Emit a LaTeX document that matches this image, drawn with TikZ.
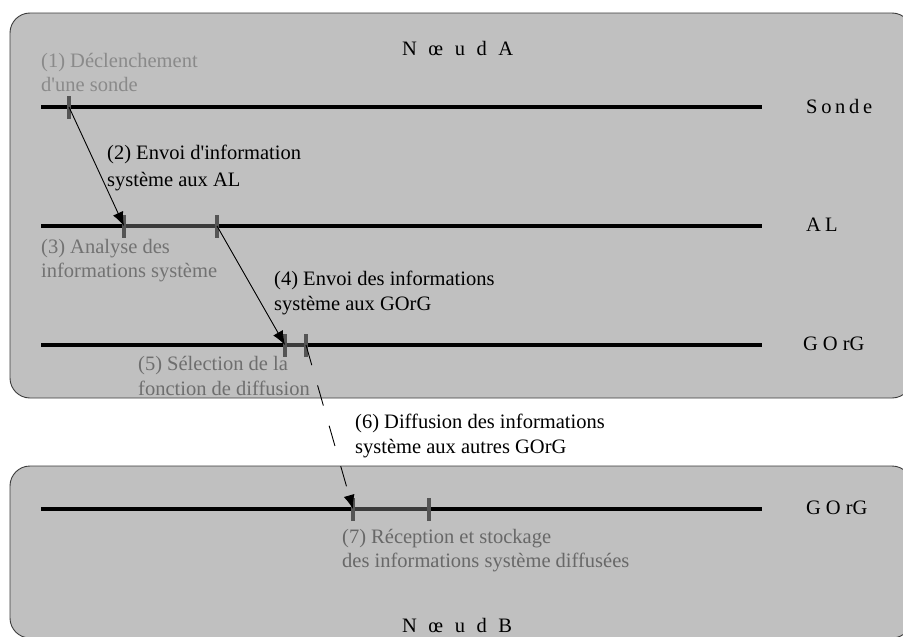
\documentclass[tikz,border=0pt]{standalone}
\usepackage{fontspec}
\setmainfont{Liberation Serif}
\usetikzlibrary{arrows.meta}

\definecolor{nodefill}{HTML}{C0C0C0}
\definecolor{nodeedge}{HTML}{3C3C3C}
\definecolor{tickgray}{HTML}{555555}
\definecolor{busygray}{HTML}{3A3A3A}
\definecolor{stepone}{HTML}{8A8A8A}
\definecolor{stepthree}{HTML}{727272}
\definecolor{stepfive}{HTML}{6E6E6E}
\definecolor{stepseven}{HTML}{686868}

% two-line label whose reference point is the baseline of its first line
\newcommand\labtwo[3][25pt]{\vtop{\baselineskip=#1\hbox{#2}\hbox{#3}}}
\newcommand\spread{\hspace{11.5pt}}

\begin{document}
\begin{tikzpicture}[x=1pt,y=-1pt,
  font=\fontsize{20.5}{25}\selectfont,
  nodebox/.style={draw=nodeedge, line width=0.9pt, fill=nodefill, rounded corners=20pt},
  lane/.style={line width=4.8pt, black},
  busy/.style={line width=3.6pt, busygray},
  tick/.style={fill=tickgray, inner sep=0pt, minimum width=3.6pt, minimum height=23pt},
  msg/.style={line width=0.9pt, -{Latex[length=14pt,width=11pt]}},
  lab/.style={anchor=base west, inner sep=0pt},
]
\clip (0,0) rectangle (903,637);
\fill[white] (0,0) rectangle (903,637);

% the two network nodes
\draw[nodebox] (10,13) rectangle (912,398);
\draw[nodebox] (10,466) rectangle (912,638);

% time lines
\draw[lane] (41,107) -- (762,107);
\draw[lane] (41,226) -- (762,226);
\draw[lane] (41,345) -- (762,345);
\draw[lane] (41,509) -- (762,509);

% event marks
\node[tick] (s1) at (69,107) {};
\node[tick] (a1) at (124,226) {};
\node[tick] (a2) at (217,226) {};
\node[tick] (g1) at (285,345) {};
\node[tick] (g2) at (306,345) {};
\node[tick] (b1) at (353,509) {};
\node[tick] (b2) at (429,509) {};

% processing intervals
\draw[busy] (a1.center) -- (a2.center);
\draw[busy] (g1.center) -- (g2.center);
\draw[busy] (b1.center) -- (b2.center);
\node[tick] at (a1) {};
\node[tick] at (a2) {};
\node[tick] at (g1) {};
\node[tick] at (g2) {};
\node[tick] at (b1) {};
\node[tick] at (b2) {};

% messages
\draw[msg] (s1.center) -- (a1.center);
\draw[msg] (a2.center) -- (g1.center);
\draw[msg, dash pattern=on 21pt off 21pt] (g2.center) -- (b1.center);

% titles
\node[lab] (na) at (402,55) {N\spread œ\spread u\spread d\spread A};
\node[lab] (nb) at (402,632) {N\spread œ\spread u\spread d\spread B};

% lane names
\node[lab] (sonde) at (806,113) {S\hspace{3.7pt}o\hspace{3.7pt}n\hspace{3.7pt}d\hspace{3.7pt}e};
\node[lab] (al) at (806,231) {A\hspace{4pt}L};
\node[lab] (ga) at (803,350) {G\hspace{5pt}O\hspace{5pt}rG};
\node[lab] (gb) at (806,514) {G\hspace{5pt}O\hspace{5pt}rG};

% step descriptions
\node[lab, stepone] (l1) at (41,67) {\labtwo[24pt]{(1) Déclenchement}{d\textquotesingle une sonde}};
\node[lab] (l2) at (107,159) {\labtwo[27pt]{(2) Envoi d\textquotesingle information}{système aux AL}};
\node[lab, stepthree] (l3) at (41,253) {\labtwo[24pt]{(3) Analyse des}{informations système}};
\node[lab] (l4) at (274,285) {\labtwo{(4) Envoi des informations}{système aux GOrG}};
\node[lab, stepfive] (l5) at (138,370) {\labtwo{(5) Sélection de la}{fonction de diffusion}};
\node[lab] (l6) at (355,428) {\labtwo{(6) Diffusion des informations}{système aux autres GOrG}};
\node[lab, stepseven] (l7) at (342,543) {\labtwo[24pt]{(7) Réception et stockage}{des informations système diffusées}};
\end{tikzpicture}
\end{document}
